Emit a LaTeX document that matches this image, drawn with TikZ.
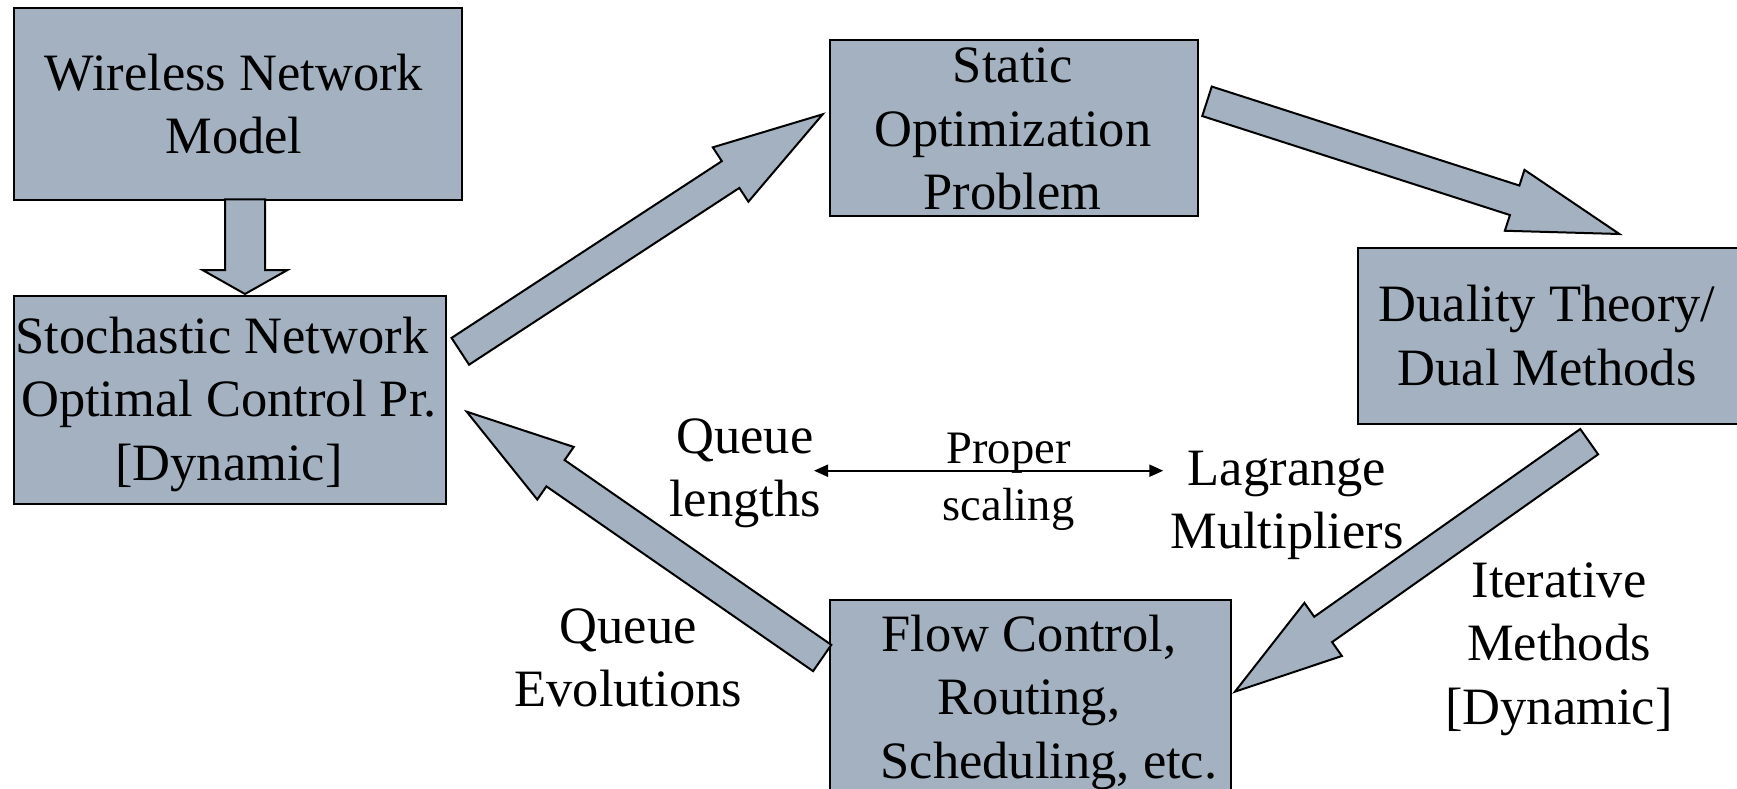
\documentclass[tikz,border=0pt]{standalone}
\usepackage{fontspec}
\setmainfont{Liberation Serif}
\usetikzlibrary{calc,arrows.meta}
\definecolor{boxfill}{RGB}{163,177,192}

% centred stack of lines whose baseline is the first line's baseline
\newcommand\lines[1]{\begin{tabular}[t]{@{}c@{}}#1\end{tabular}}

% wide block arrow: tail, tip, shaft half-width, head half-width, head length
\newcommand\blockarrow[5]{%
  \draw[barrow] let \p1=(#1), \p2=(#2),
      \n1={atan2(\y2-\y1,\x2-\x1)},
      \n2={veclen(\x2-\x1,\y2-\y1)-#5} in
    ($(\p1)+({\n1+90}:#3)$)
    -- ($(\p1)+(\n1:{\n2*1pt})+({\n1+90}:#3)$)
    -- ($(\p1)+(\n1:{\n2*1pt})+({\n1+90}:#4)$)
    -- (\p2)
    -- ($(\p1)+(\n1:{\n2*1pt})+({\n1-90}:#4)$)
    -- ($(\p1)+(\n1:{\n2*1pt})+({\n1-90}:#3)$)
    -- ($(\p1)+({\n1-90}:#3)$)
    -- cycle;}

\begin{document}
\begin{tikzpicture}[x=1pt, y=-1pt,
  box/.style={draw=black, line width=2pt, fill=boxfill, inner sep=0pt, anchor=north west},
  txt/.style={anchor=base, inner sep=0pt, font=\fontsize{52.5}{63.5}\selectfont},
  smalltxt/.style={anchor=base, inner sep=0pt, font=\fontsize{46.5}{56.5}\selectfont},
  barrow/.style={draw=black, line width=2pt, fill=boxfill, line join=miter}]

\useasboundingbox (0,0) rectangle (1737,789);

% boxes
\node[box, minimum width=448.3pt, minimum height=192.7pt] (wnm)  at (12.7,6.7)   {};
\node[box, minimum width=432.6pt, minimum height=207.5pt] (snoc) at (12.7,295)   {};
\node[box, minimum width=368.5pt, minimum height=175pt]   (sop)  at (828.5,39.5) {};
\node[box, minimum width=386pt,   minimum height=175.5pt] (dual) at (1356.6,247) {};
\node[box, minimum width=401pt,   minimum height=220pt]   (flow) at (828.5,599)  {};

% box texts
\node[txt] (wnmt)  at (234,90.5)   {\lines{Wireless Network\\Model}};
\node[txt] (snoct) at (229,353)    {\lines{\hspace*{-14pt}Stochastic Network\\Optimal Control Pr.\\{[Dynamic]}}};
\node[txt] (sopt)  at (1012.7,83)  {\lines{Static\\Optimization\\Problem}};
\node[txt] (dualt) at (1547,321.5) {\lines{Duality Theory/\\Dual Methods}};
\node[txt] (flowt) at (1029,651)   {\lines{Flow Control,\\Routing,\\\hspace*{40pt}Scheduling, etc.}};

% free labels
\node[txt]      (ql) at (745,453)     {\lines{Queue\\lengths}};
\node[smalltxt] (ps) at (1008.5,463.5){\lines{Proper\\scaling}};
\node[txt]      (lm) at (1287,485)    {\lines{Lagrange\\Multipliers}};
\node[txt]      (im) at (1559,597)    {\lines{Iterative\\Methods\\{[Dynamic]}}};
\node[txt]      (qe) at (628.3,643)   {\lines{Queue\\Evolutions}};

% arrow end points
\coordinate (a0s) at (245,199.4);   \coordinate (a0e) at (245,294);
\coordinate (a1s) at (460.3,351.3); \coordinate (a1e) at (822.7,114.3);
\coordinate (a2s) at (1207,101.3);  \coordinate (a2e) at (1619.4,234);
\coordinate (a3s) at (1589.2,441.7);\coordinate (a3e) at (1234.9,691.7);
\coordinate (a4s) at (822.2,658);   \coordinate (a4e) at (466.7,411.7);
\coordinate (sl) at (814,470.7);    \coordinate (sr) at (1163.3,470.7);

% block arrows
\blockarrow{a0s}{a0e}{20pt}{42.5pt}{24pt}
\blockarrow{a1s}{a1e}{16pt}{32.5pt}{110pt}
\blockarrow{a2s}{a2e}{15.5pt}{32pt}{110pt}
\blockarrow{a3s}{a3e}{15.5pt}{32.5pt}{108pt}
\blockarrow{a4s}{a4e}{16pt}{32pt}{108pt}

% scaling relation
\draw[line width=2pt, {Triangle[length=14pt,width=12pt]}-{Triangle[length=14pt,width=12pt]}] (sl) -- (sr);
\end{tikzpicture}
\end{document}
